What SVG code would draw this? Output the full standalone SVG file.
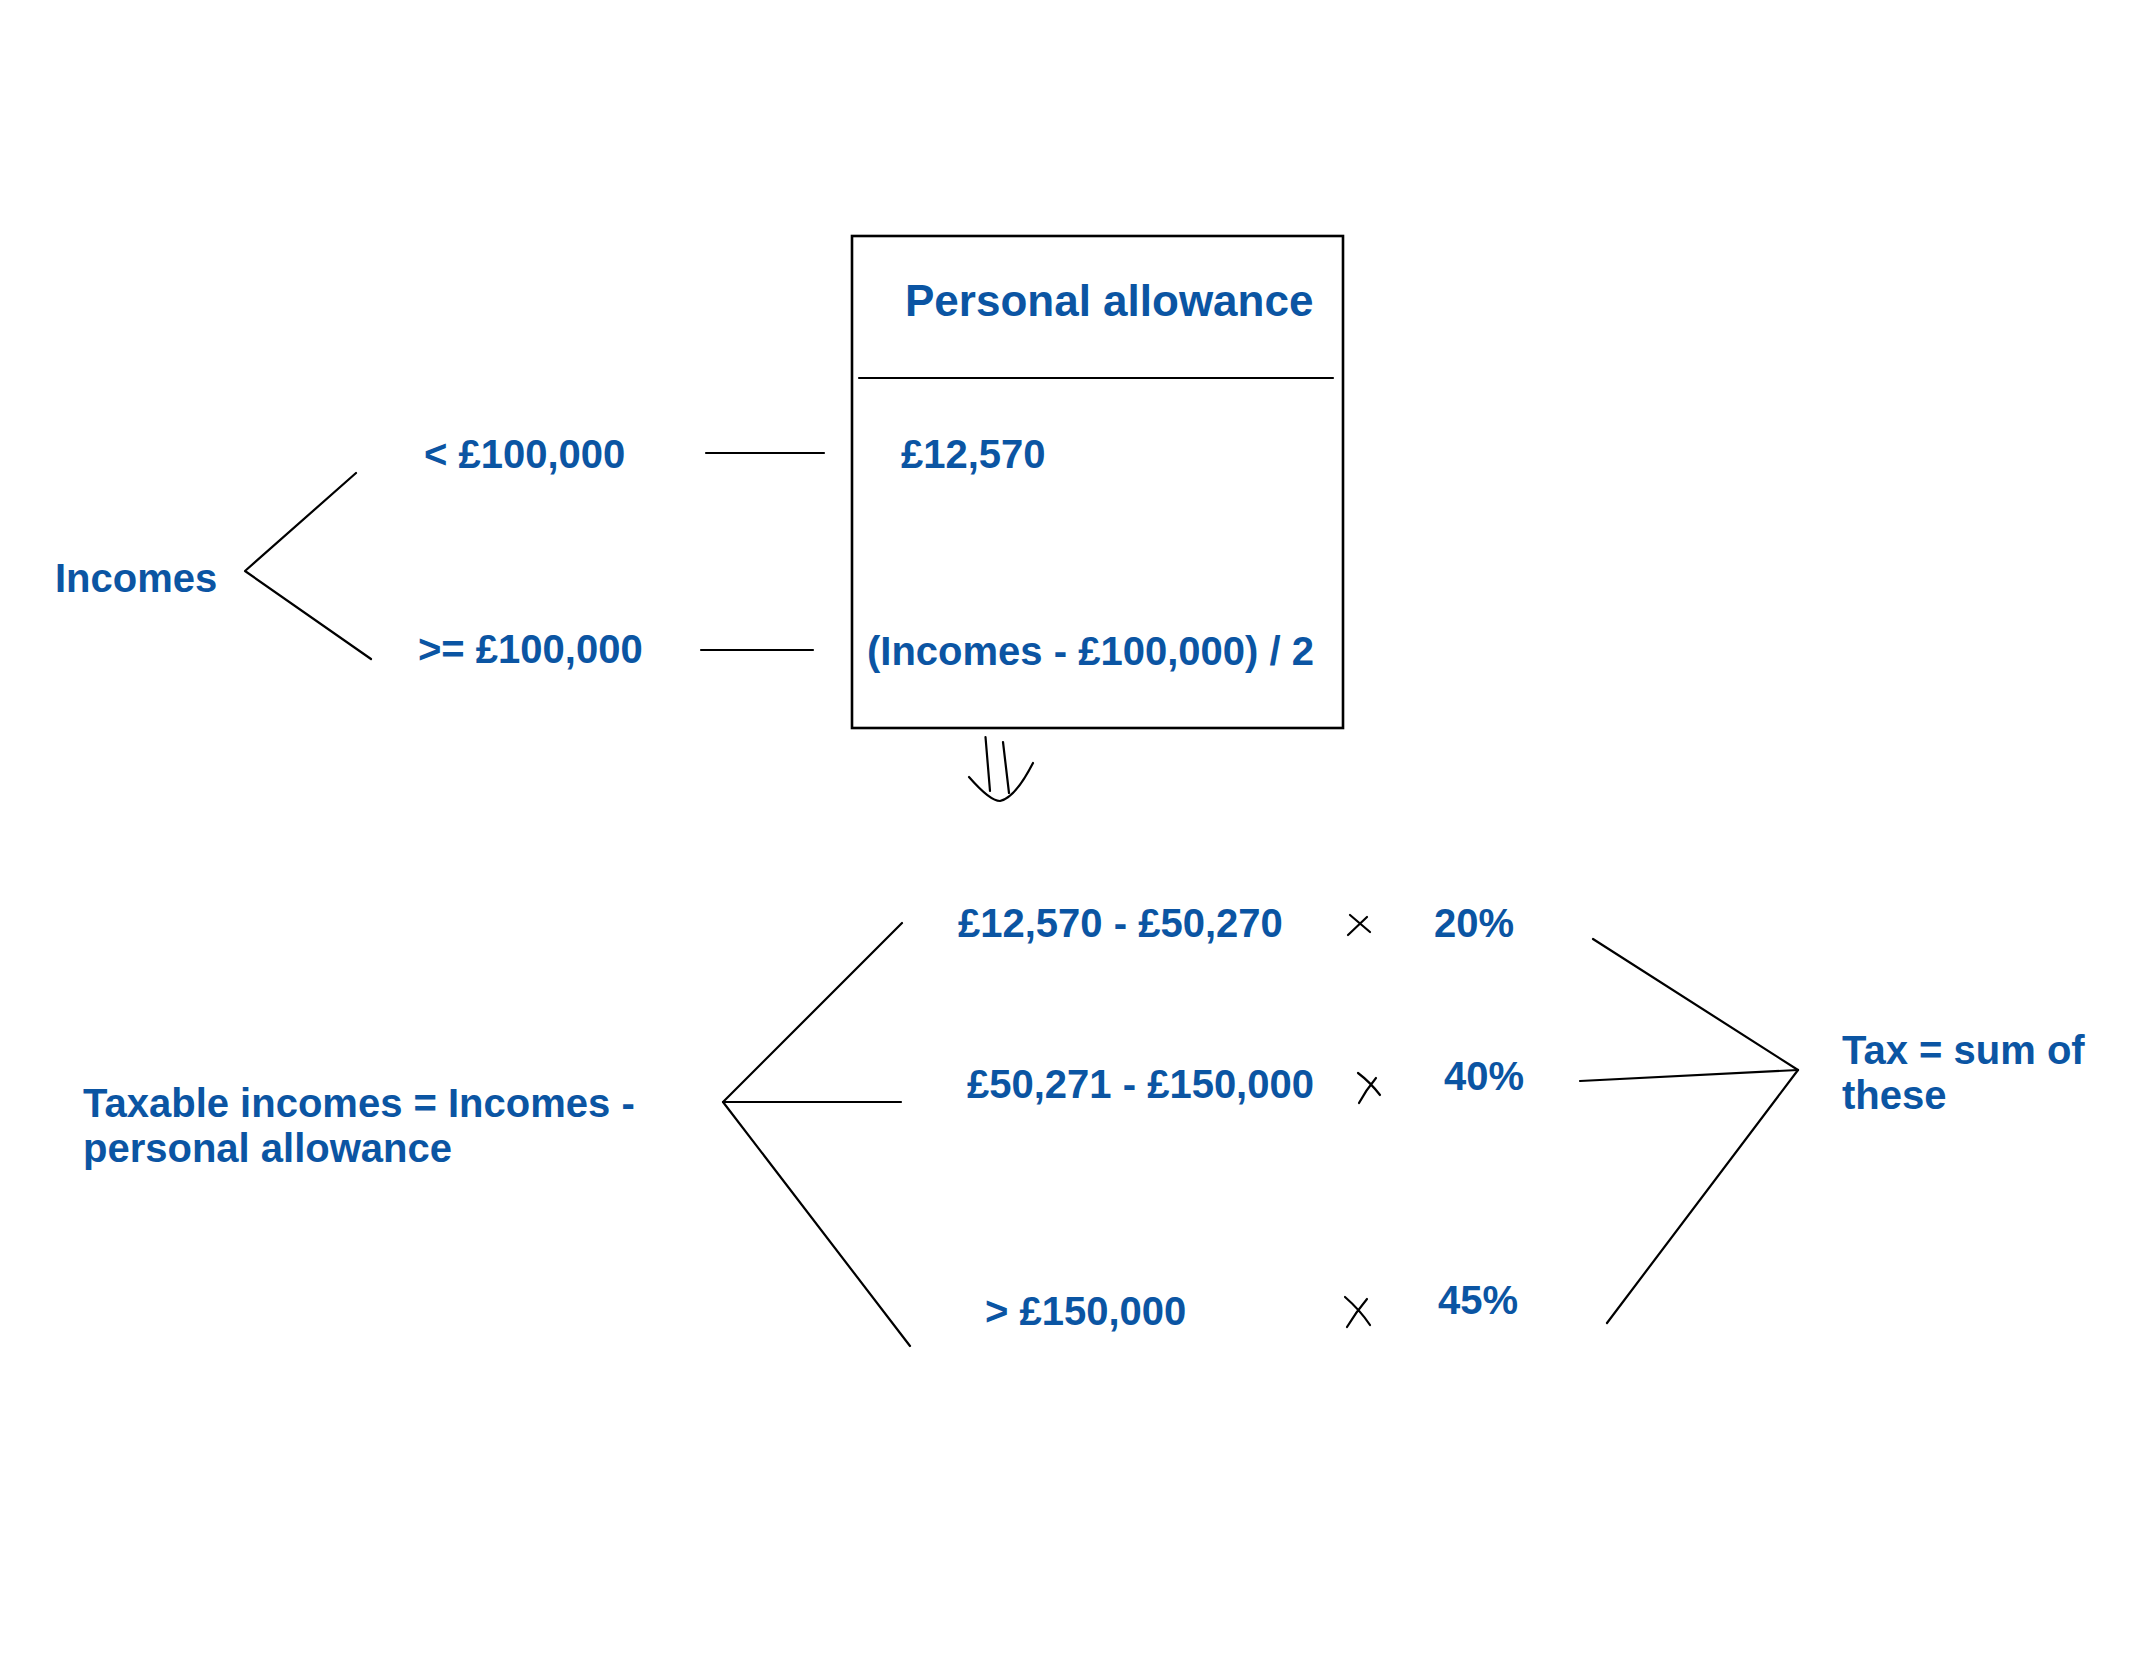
<svg xmlns="http://www.w3.org/2000/svg" width="2154" height="1668" viewBox="0 0 2154 1668">
<style>
  .t { font-family: "Liberation Sans", Arial, sans-serif; font-weight: bold; font-size: 40px; fill: #0B55A3; }
  .title { font-size: 44px; }
  .ln { stroke: #000; stroke-width: 2.2; fill: none; stroke-linecap: round; stroke-linejoin: round; }
  .box { stroke: #000; stroke-width: 2.6; fill: #fff; }
</style>
<rect width="2154" height="1668" fill="#fff"/>

<g id="connectors">
  <!-- Incomes branches -->
  <polyline class="ln" points="356,473 245,571 371,659"/>
  <line class="ln" x1="706" y1="453" x2="824" y2="453"/>
  <line class="ln" x1="701" y1="650" x2="813" y2="650"/>
  <!-- hand-drawn down arrow -->
  <path class="ln" d="M985.5,737 L990,791"/>
  <path class="ln" d="M1003,742 L1009,793"/>
  <path class="ln" d="M969,777 Q990,801 1000,801 Q1015,798 1033,763"/>
  <!-- taxable branches -->
  <polyline class="ln" points="902,923 723,1102 910,1346"/>
  <line class="ln" x1="723" y1="1102" x2="901" y2="1102"/>
  <!-- multiplication marks -->
  <path class="ln" d="M1350,915 L1370,932 M1367,917 L1348,935"/>
  <path class="ln" d="M1358,1073 Q1370,1082 1380,1095 M1376,1078 Q1366,1090 1359,1103"/>
  <path class="ln" d="M1345,1297 Q1360,1310 1370,1325 M1367,1299 Q1356,1312 1347,1327"/>
  <!-- sum branches -->
  <line class="ln" x1="1593" y1="939" x2="1798" y2="1070"/>
  <line class="ln" x1="1580" y1="1081" x2="1798" y2="1070"/>
  <line class="ln" x1="1607" y1="1323" x2="1798" y2="1070"/>
</g>

<g id="incomes">
  <text class="t" x="55" y="592">Incomes</text>
</g>
<g id="lt100k">
  <text class="t" x="424" y="468">&lt; £100,000</text>
</g>
<g id="ge100k">
  <text class="t" x="418" y="663">&gt;= £100,000</text>
</g>

<g id="personal-allowance">
  <rect class="box" x="852" y="236" width="491" height="492"/>
  <line class="ln" x1="859" y1="378" x2="1333" y2="378"/>
  <text class="t title" x="905" y="316">Personal allowance</text>
  <text class="t" x="901" y="468">£12,570</text>
  <text class="t" x="867" y="665">(Incomes - £100,000) / 2</text>
</g>

<g id="taxable">
  <text class="t" x="83" y="1117">Taxable incomes = Incomes -</text>
  <text class="t" x="83" y="1162">personal allowance</text>
</g>

<g id="band1">
  <text class="t" x="958" y="937">£12,570 - £50,270</text>
  <text class="t" x="1434" y="937">20%</text>
</g>
<g id="band2">
  <text class="t" x="967" y="1098">£50,271 - £150,000</text>
  <text class="t" x="1444" y="1090">40%</text>
</g>
<g id="band3">
  <text class="t" x="985" y="1325">&gt; £150,000</text>
  <text class="t" x="1438" y="1314">45%</text>
</g>

<g id="tax">
  <text class="t" x="1842" y="1064">Tax = sum of</text>
  <text class="t" x="1842" y="1109">these</text>
</g>
</svg>
